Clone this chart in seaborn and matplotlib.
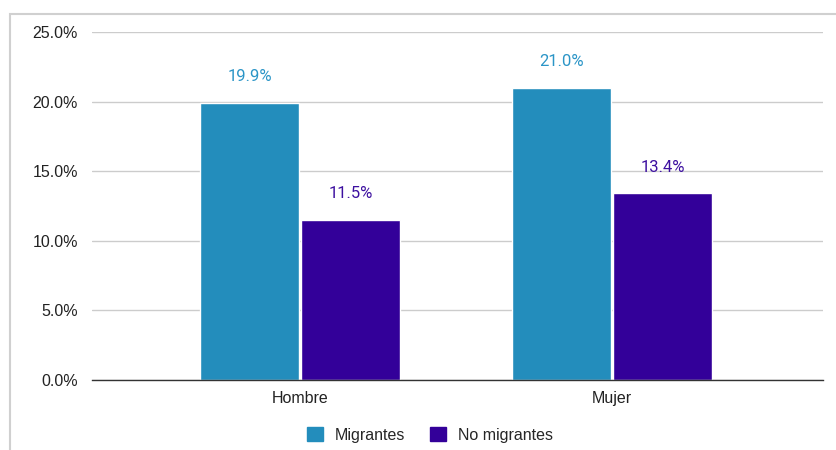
import pandas as pd
import matplotlib.pyplot as plt
import seaborn as sns
from matplotlib.patches import Patch, Rectangle
from matplotlib.ticker import FuncFormatter

# datos
sexo = ['Hombre', 'Mujer']
grupos = ['Migrantes', 'No migrantes']
migrantes = [0.199, 0.210]
no_migrantes = [0.115, 0.134]
colores = ['#238dbc', '#330099']
colores_etiqueta = ['#2b95c7', '#3d10a0']

df = pd.DataFrame({
    'sexo': sexo * 2,
    'grupo': [grupos[0]] * 2 + [grupos[1]] * 2,
    'valor': migrantes + no_migrantes,
})

sns.set_style('white')
plt.rcParams['font.family'] = ['Roboto', 'DejaVu Sans']

fig = plt.figure(figsize=(8.37, 4.5), dpi=100)
ax = fig.add_axes([92 / 837, 1 - 380 / 450, (823 - 92) / 837, (380 - 32) / 450])

sns.barplot(data=df, x='sexo', y='valor', hue='grupo', palette=colores,
            width=0.645, gap=0.015, saturation=1, ax=ax, legend=False)

# etiquetas de valores
for cont, col in zip(ax.containers, colores_etiqueta):
    for barra in cont:
        h = barra.get_height()
        ax.annotate(f'{h * 100:.1f}%', (barra.get_x() + barra.get_width() / 2, h),
                    xytext=(0, 19), textcoords='offset points',
                    ha='center', va='center', fontsize=12, color=col)

ax.set_ylim(0, 0.25)
ax.set_xlim(-0.667, 1.676)
ax.set_yticks([0, 0.05, 0.10, 0.15, 0.20, 0.25])
ax.yaxis.set_major_formatter(FuncFormatter(lambda v, p: f'{v * 100:.1f}%'))
ax.grid(axis='y', color='#cccccc', lw=1)
ax.set_axisbelow(True)
for s in ['top', 'right', 'left']:
    ax.spines[s].set_visible(False)
ax.spines['bottom'].set_color('#333333')
ax.spines['bottom'].set_linewidth(1)
ax.tick_params(axis='both', length=0, labelsize=11.5, colors='#222222', pad=8)
ax.tick_params(axis='y', pad=10)
for t in ax.get_yticklabels() + ax.get_xticklabels():
    t.set_family(['Liberation Sans', 'DejaVu Sans'])
ax.set_xlabel('')
ax.set_ylabel('')

# leyenda
handles = [Patch(facecolor=c, edgecolor=c) for c in colores]
fig.legend(handles, grupos, loc='center', bbox_to_anchor=(430 / 837, 1 - 435 / 450),
           ncol=2, frameon=False, handlelength=1.0, handleheight=1.0,
           handletextpad=0.7, columnspacing=1.6,
           prop={'family': ['Liberation Sans', 'DejaVu Sans'], 'size': 11.5})

# marco
fig.patches.append(Rectangle((10 / 837, -0.2), 1.2, 1 - 14 / 450 + 0.2,
                             transform=fig.transFigure, fill=False,
                             edgecolor='#d0d0d0', lw=1.5))

fig.savefig('out.png', dpi=100)
